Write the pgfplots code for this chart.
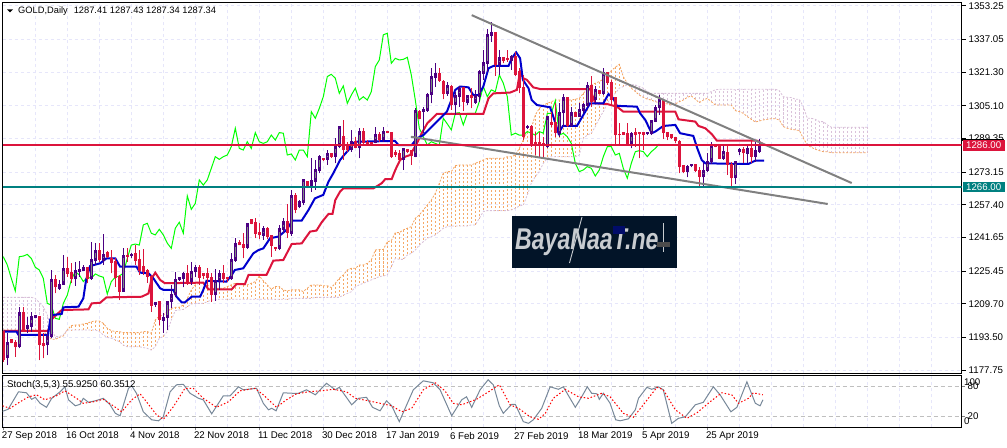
\documentclass[border=0pt]{standalone}
\usepackage{graphicx}
\usepackage{fontspec}
\setmainfont{Liberation Sans}
\usepackage{pgfplots}
\usepackage{pgfplotstable}
\pgfplotsset{compat=1.18}

\definecolor{crim}{HTML}{DC143C}
\definecolor{tealc}{HTML}{008080}
\definecolor{medblue}{HTML}{0000CD}
\definecolor{limec}{HTML}{00FF00}
\definecolor{sandy}{HTML}{F4A460}
\definecolor{thist}{HTML}{D8BFD8}
\definecolor{trend}{HTML}{808080}
\definecolor{indig}{HTML}{4B0082}
\definecolor{bodyg}{HTML}{7F8C80}
\definecolor{lav}{HTML}{E6E6FA}
\definecolor{slate}{HTML}{778899}
\definecolor{navyb}{HTML}{021428}
\definecolor{wmtext}{HTML}{C8CCD0}

\newcommand{\sm}{\fontsize{9.7bp}{11bp}\selectfont}

% rising candles
\pgfplotstableread{
i h t b l
1 1195.5 1191.0 1183.4 1180.2
4 1208.3 1205.1 1188.7 1188.2
6 1203.5 1199.0 1197.7 1195.5
7 1205.9 1203.2 1198.7 1196.3
8 1203.8 1203.8 1202.7 1202.7
11 1197.1 1193.5 1189.7 1185.0
12 1226.0 1221.2 1193.5 1193.1
14 1221.2 1218.8 1216.7 1216.4
15 1233.2 1226.5 1218.9 1218.8
18 1230.0 1225.5 1221.5 1218.3
19 1230.5 1226.0 1225.0 1222.8
20 1228.4 1227.1 1225.7 1225.7
22 1239.3 1230.8 1221.5 1221.2
23 1238.9 1235.2 1230.3 1228.4
25 1243.3 1233.2 1230.3 1228.4
30 1236.4 1232.7 1215.6 1215.6
32 1234.0 1233.4 1232.7 1231.6
38 1210.2 1210.2 1209.3 1208.3
40 1205.4 1202.7 1201.6 1195.8
41 1210.4 1210.4 1202.7 1197.1
42 1218.8 1213.8 1210.7 1207.5
43 1225.2 1221.2 1213.8 1213.1
44 1222.8 1222.1 1221.2 1220.8
45 1225.2 1224.1 1221.8 1217.6
47 1230.0 1225.2 1220.4 1218.8
48 1228.4 1226.8 1224.9 1222.5
53 1226.3 1220.8 1213.9 1211.1
54 1226.0 1223.9 1220.8 1216.4
57 1234.3 1230.8 1221.5 1221.2
58 1241.3 1238.4 1230.5 1230.0
61 1248.5 1248.0 1236.8 1236.0
65 1247.2 1245.6 1242.4 1240.5
69 1247.7 1245.6 1236.3 1235.6
70 1250.9 1249.0 1245.3 1243.7
72 1264.6 1261.7 1243.2 1242.4
74 1259.7 1258.5 1256.2 1255.7
75 1269.4 1269.4 1258.1 1257.3
77 1279.8 1268.9 1266.2 1263.8
78 1279.0 1274.2 1268.6 1264.6
79 1281.4 1280.3 1273.9 1272.6
81 1283.8 1281.8 1279.0 1276.6
83 1289.5 1285.5 1280.6 1277.4
84 1295.1 1294.8 1285.5 1284.6
87 1293.5 1287.8 1283.8 1283.0
89 1294.3 1292.3 1284.6 1279.8
93 1295.1 1291.0 1287.3 1287.0
95 1295.1 1292.5 1288.6 1287.8
100 1284.6 1284.3 1279.0 1274.2
103 1303.9 1302.6 1280.6 1280.3
105 1304.7 1303.1 1302.3 1291.9
106 1311.1 1310.3 1302.6 1302.3
107 1323.2 1318.9 1310.3 1306.3
108 1325.6 1320.5 1318.4 1314.4
111 1316.8 1314.7 1310.8 1309.9
113 1311.9 1309.9 1305.5 1300.7
114 1314.7 1313.1 1309.5 1304.7
116 1310.3 1309.9 1306.6 1305.5
118 1312.8 1309.9 1306.6 1306.0
119 1322.4 1321.6 1309.5 1307.1
120 1332.0 1325.6 1320.5 1317.6
121 1342.0 1339.3 1325.3 1321.6
122 1345.7 1340.1 1338.9 1336.0
124 1332.0 1328.0 1324.8 1320.0
127 1329.6 1328.5 1326.9 1322.4
131 1295.9 1295.1 1294.3 1293.8
136 1299.9 1299.6 1285.1 1284.6
139 1306.3 1301.5 1291.5 1290.2
140 1310.7 1308.7 1301.5 1295.1
142 1304.7 1301.5 1295.4 1295.1
144 1306.3 1303.1 1299.9 1299.6
145 1306.6 1305.4 1302.6 1301.5
146 1316.8 1314.8 1305.0 1304.7
148 1314.7 1312.7 1307.9 1306.3
150 1323.2 1320.8 1310.8 1310.3
157 1292.7 1291.4 1286.7 1284.6
161 1292.5 1292.2 1291.4 1291.0
162 1298.3 1298.0 1291.4 1291.0
163 1305.5 1303.9 1297.5 1297.2
164 1310.3 1307.9 1303.9 1300.7
171 1276.6 1275.5 1273.0 1270.6
172 1277.1 1276.6 1276.1 1275.5
175 1277.4 1273.9 1270.6 1266.5
176 1282.2 1278.2 1273.9 1273.4
177 1287.8 1285.8 1278.2 1277.1
180 1286.2 1283.0 1279.5 1279.0
183 1278.7 1278.2 1270.2 1267.4
184 1284.6 1283.8 1282.7 1281.4
186 1286.2 1284.2 1281.9 1277.4
188 1287.8 1283.3 1280.6 1278.2
189 1289.0 1285.1 1282.9 1282.5
}\upcandles

% falling candles
\pgfplotstableread{
i h t b l
0 1196.3 1196.3 1182.6 1181.8
2 1192.2 1192.2 1190.6 1190.6
3 1192.2 1190.6 1188.7 1184.2
5 1208.3 1205.1 1197.1 1196.3
9 1203.8 1203.5 1189.8 1182.6
10 1195.5 1190.3 1189.3 1183.4
13 1223.6 1221.2 1217.6 1214.7
16 1232.4 1226.5 1224.1 1222.8
17 1229.2 1224.4 1221.5 1219.6
21 1227.6 1226.8 1221.5 1219.6
24 1238.9 1235.2 1230.8 1230.0
26 1235.2 1234.3 1232.4 1231.6
27 1235.6 1231.3 1229.5 1224.4
28 1231.6 1230.0 1222.0 1218.0
29 1223.6 1222.5 1215.6 1211.5
31 1236.4 1232.9 1232.4 1230.0
33 1238.0 1233.5 1230.3 1228.4
34 1235.6 1230.8 1225.5 1223.6
35 1236.0 1227.3 1225.2 1223.6
36 1226.3 1225.5 1222.5 1219.9
37 1223.6 1222.5 1208.8 1205.9
39 1210.7 1210.7 1201.9 1199.5
46 1228.4 1224.1 1220.4 1218.8
49 1228.4 1227.1 1222.3 1218.8
50 1223.9 1223.9 1223.1 1221.5
51 1226.8 1223.9 1222.3 1216.7
52 1224.4 1222.3 1213.9 1210.7
55 1228.4 1224.1 1221.5 1219.6
56 1222.3 1222.3 1221.5 1220.4
59 1240.5 1238.9 1237.9 1237.9
60 1243.7 1238.0 1236.8 1231.6
62 1250.4 1250.1 1248.2 1248.0
63 1250.9 1248.8 1243.4 1241.3
64 1248.8 1243.8 1242.7 1240.8
66 1246.9 1245.8 1242.1 1240.8
67 1242.9 1242.4 1237.6 1232.4
68 1237.2 1236.8 1236.0 1235.2
71 1257.8 1249.0 1243.7 1241.3
73 1263.0 1261.7 1254.9 1253.3
76 1268.6 1268.6 1266.2 1265.4
80 1280.1 1279.5 1279.0 1278.5
82 1281.8 1281.8 1280.6 1280.1
85 1298.3 1290.2 1283.8 1279.0
86 1287.8 1285.4 1283.8 1283.0
88 1290.2 1287.8 1284.6 1284.6
90 1294.3 1292.3 1287.0 1286.7
91 1288.6 1287.3 1286.9 1286.2
92 1287.8 1287.0 1286.6 1286.0
94 1292.7 1291.0 1288.6 1287.8
96 1292.3 1292.3 1291.9 1291.9
97 1292.7 1291.9 1280.6 1280.1
98 1283.8 1282.5 1281.6 1280.6
99 1283.8 1281.9 1279.0 1277.4
101 1283.8 1283.8 1283.0 1282.2
102 1283.8 1283.5 1280.9 1276.6
104 1303.1 1302.3 1298.8 1298.6
109 1323.2 1320.5 1317.2 1316.8
110 1317.6 1316.8 1310.8 1308.2
112 1315.2 1314.0 1305.5 1303.1
115 1314.4 1313.6 1307.1 1302.6
117 1313.6 1309.9 1308.7 1303.9
123 1340.4 1340.1 1324.8 1319.5
125 1328.0 1327.9 1326.7 1325.6
126 1332.0 1327.5 1327.0 1326.4
128 1331.2 1328.8 1320.0 1319.5
129 1323.2 1321.6 1313.6 1311.1
130 1320.0 1313.6 1289.9 1288.6
132 1295.9 1295.1 1286.2 1285.4
133 1292.7 1287.3 1286.2 1281.4
134 1292.7 1287.3 1285.9 1280.6
135 1290.2 1286.7 1285.9 1280.6
137 1302.3 1297.0 1295.9 1295.1
138 1306.3 1296.7 1291.9 1290.2
141 1309.5 1308.7 1295.4 1295.1
143 1301.5 1301.5 1299.9 1299.9
147 1319.5 1314.8 1307.1 1304.7
149 1312.4 1312.1 1310.8 1310.8
151 1321.6 1320.8 1316.0 1315.2
152 1317.6 1316.0 1307.9 1305.5
153 1308.7 1308.7 1291.0 1286.2
154 1296.7 1291.0 1290.9 1286.2
155 1291.9 1291.9 1291.0 1291.0
156 1296.7 1291.4 1286.7 1286.2
158 1294.3 1292.2 1291.0 1285.4
159 1292.7 1292.2 1291.5 1279.8
160 1292.2 1292.0 1291.0 1283.8
165 1308.2 1307.4 1291.9 1289.0
166 1292.2 1291.9 1289.9 1288.6
167 1291.5 1291.0 1289.4 1289.0
168 1289.9 1289.4 1288.3 1287.0
169 1288.6 1287.8 1275.8 1272.6
170 1276.6 1276.1 1273.4 1272.6
173 1276.6 1276.6 1273.9 1273.4
174 1275.8 1273.9 1271.0 1265.8
178 1286.2 1285.8 1285.4 1285.1
179 1286.2 1285.8 1279.5 1279.3
181 1286.2 1282.5 1276.6 1271.8
182 1278.2 1276.6 1270.2 1265.8
185 1285.1 1283.8 1282.2 1277.4
187 1288.6 1284.2 1280.6 1277.4
}\downcandles

% ichimoku spans
\pgfplotstableread{
i A B
0 1197.1 1212.8
1 1197.1 1212.8
2 1197.1 1212.8
3 1197.1 1212.8
4 1197.1 1212.8
5 1197.1 1212.8
6 1197.1 1212.8
7 1197.1 1212.8
8 1197.1 1212.3
9 1196.8 1210.3
10 1196.3 1208.3
11 1194.7 1204.3
12 1192.6 1197.1
13 1192.6 1193.9
14 1193.5 1193.9
15 1194.2 1194.7
16 1197.1 1197.1
17 1199.2 1197.1
18 1199.5 1197.1
19 1199.5 1197.1
20 1200.0 1197.1
21 1200.3 1197.1
22 1201.1 1197.1
23 1201.4 1197.1
24 1201.4 1196.3
25 1200.3 1194.7
26 1197.9 1193.5
27 1196.8 1193.1
28 1196.3 1192.3
29 1196.3 1191.5
30 1195.8 1189.8
31 1195.8 1189.0
32 1195.8 1189.0
33 1195.8 1189.0
34 1195.8 1189.0
35 1196.3 1188.6
36 1196.3 1188.2
37 1195.5 1187.4
38 1201.9 1189.0
39 1203.8 1193.1
40 1204.3 1193.9
41 1205.9 1196.3
42 1207.5 1201.9
43 1208.0 1206.4
44 1208.0 1206.7
45 1209.1 1207.0
46 1212.3 1208.3
47 1216.4 1209.6
48 1218.8 1209.9
49 1219.6 1209.9
50 1219.6 1209.9
51 1218.8 1210.7
52 1217.2 1211.5
53 1217.2 1211.5
54 1217.2 1211.9
55 1217.2 1211.9
56 1218.0 1211.9
57 1218.8 1211.9
58 1219.6 1211.9
59 1219.6 1211.9
60 1218.8 1211.9
61 1218.8 1211.9
62 1219.6 1211.9
63 1220.4 1211.9
64 1223.1 1211.9
65 1220.8 1211.9
66 1218.8 1211.9
67 1216.7 1211.9
68 1218.0 1211.9
69 1218.0 1211.9
70 1216.4 1211.9
71 1215.9 1211.9
72 1216.4 1212.3
73 1216.4 1212.3
74 1216.4 1212.3
75 1215.6 1212.3
76 1217.2 1212.3
77 1218.8 1212.3
78 1218.8 1212.8
79 1218.8 1212.8
80 1218.4 1212.8
81 1218.4 1212.8
82 1217.5 1212.8
83 1219.6 1212.8
84 1222.0 1212.8
85 1223.6 1213.9
86 1226.0 1214.7
87 1226.8 1215.5
88 1226.8 1217.9
89 1228.4 1218.8
90 1228.4 1219.6
91 1229.2 1220.4
92 1230.8 1221.2
93 1235.6 1222.0
94 1235.9 1222.8
95 1235.9 1223.1
96 1239.6 1223.6
97 1240.1 1227.6
98 1244.0 1231.6
99 1244.0 1231.1
100 1245.3 1231.1
101 1246.1 1233.2
102 1246.9 1234.0
103 1250.9 1235.6
104 1252.5 1238.0
105 1254.9 1239.6
106 1257.3 1241.3
107 1259.7 1242.1
108 1263.0 1242.9
109 1267.8 1244.5
110 1272.6 1246.1
111 1273.4 1246.9
112 1273.4 1247.2
113 1276.3 1247.2
114 1276.6 1247.2
115 1276.6 1247.2
116 1276.6 1247.2
117 1276.6 1247.7
118 1277.4 1247.7
119 1278.2 1250.9
120 1279.0 1254.1
121 1279.8 1254.6
122 1279.8 1254.6
123 1279.8 1254.6
124 1279.8 1254.6
125 1279.8 1254.6
126 1280.6 1254.6
127 1280.6 1254.9
128 1281.4 1255.7
129 1284.6 1256.8
130 1288.7 1257.3
131 1292.7 1262.1
132 1294.3 1267.8
133 1300.7 1271.0
134 1303.9 1273.4
135 1305.5 1277.4
136 1306.3 1279.8
137 1307.1 1280.6
138 1307.9 1280.6
139 1307.9 1280.6
140 1307.9 1280.6
141 1307.9 1280.6
142 1307.9 1280.6
143 1308.3 1280.6
144 1308.7 1281.4
145 1311.1 1289.4
146 1313.1 1291.0
147 1315.2 1291.9
148 1316.0 1295.1
149 1316.8 1299.1
150 1317.9 1302.3
151 1320.0 1306.3
152 1322.1 1309.5
153 1323.7 1311.1
154 1325.1 1313.6
155 1319.2 1314.4
156 1316.0 1315.2
157 1313.6 1315.2
158 1312.0 1315.2
159 1310.3 1314.4
160 1309.2 1313.6
161 1308.3 1312.0
162 1307.9 1311.1
163 1307.1 1311.1
164 1306.6 1311.1
165 1306.3 1311.1
166 1306.0 1311.1
167 1305.5 1311.1
168 1306.0 1311.1
169 1307.1 1311.1
170 1307.9 1311.1
171 1309.2 1311.1
172 1309.9 1311.1
173 1308.3 1311.1
174 1306.6 1311.1
175 1307.9 1311.1
176 1308.7 1311.1
177 1307.1 1312.0
178 1305.5 1312.8
179 1305.5 1313.1
180 1305.5 1313.1
181 1305.5 1313.1
182 1305.5 1313.1
183 1302.8 1312.8
184 1302.3 1313.1
185 1301.5 1313.1
186 1299.9 1313.1
187 1298.6 1313.1
188 1297.3 1313.1
189 1297.8 1313.1
190 1298.3 1313.1
191 1298.6 1313.1
192 1298.9 1313.1
193 1298.9 1313.1
194 1298.3 1312.4
195 1295.1 1309.5
196 1294.3 1309.2
197 1293.8 1309.1
198 1293.5 1308.3
199 1293.2 1308.3
200 1289.5 1304.7
201 1286.3 1299.1
202 1285.1 1299.1
203 1284.2 1298.6
204 1283.5 1297.5
205 1283.0 1297.5
206 1283.0 1295.9
207 1282.5 1294.8
208 1282.5 1294.8
209 1282.5 1294.8
210 1282.5 1294.8
211 1282.5 1294.8
212 1282.5 1294.8
213 1282.5 1294.8
214 1282.5 1294.8
215 1282.5 1294.8
216 1282.5 1294.8
}\cloud

\begin{document}
\begin{tikzpicture}[font=\sm]
\path[use as bounding box] (0,0) rectangle (1007bp,-448bp);

\begin{axis}[
    name=main,
    at={(2.5bp,-2.5bp)}, anchor=north west,
    scale only axis, width=959bp, height=370.8bp,
    xmin=-0.2, xmax=239.55, ymin=1176.2, ymax=1354.9,
    axis line style={line width=1.2bp},
    xtick={8,16,...,232}, xticklabels={},
    xtick style={draw=none},
    ytick={1177.75,1193.50,1209.70,1225.45,1241.65,1257.40,1273.15,1289.35,1305.10,1321.30,1337.05,1353.25},
    yticklabels={1177.75,1193.50,1209.70,1225.45,1241.65,1257.40,1273.15,1289.35,1305.10,1321.30,1337.05,1353.25},
    ytick pos=right, yticklabel pos=right,
    tick align=outside, major tick length=4bp,
    ytick style={black,line width=1bp},
    yticklabel style={font=\sm,inner sep=0pt,xshift=3bp},
    grid=major,
    grid style={lav,line width=1bp,dash pattern=on 3bp off 3bp},
]
\pgfplotsset{
  span/.style={#1,line width=0.8bp,dash pattern=on 2bp off 1.5bp,forget plot,mark=none},
  bar/.style n args={2}{only marks,mark size=0pt,mark options={draw=none,fill=none},forget plot,
    error bars/y dir=plus,error bars/y explicit,error bars/error mark=none,
    error bars/error bar style={#1,line width=#2,line cap=butt}}
}
% cloud hatching, one dashed stroke per bar, coloured by which span is on top
\pgfplotsinvokeforeach{0,...,216}{
  \pgfplotstablegetelem{#1}{A}\of\cloud\let\spa\pgfplotsretval
  \pgfplotstablegetelem{#1}{B}\of\cloud\let\spb\pgfplotsretval
  \ifdim\spa pt<\spb pt\def\hcol{thist}\else\def\hcol{sandy}\fi
  \edef\tmp{\noexpand\addplot[\hcol,line width=1bp,line cap=butt,opacity=0.95,dash pattern=on 2.1bp off 1.9bp,mark=none,forget plot]
    coordinates {(#1,\spa)(#1,\spb)};}
  \tmp
}
\addplot[span=sandy] table[x=i,y=A] {\cloud};
\addplot[span=thist] table[x=i,y=B] {\cloud};

% chikou
\addplot[limec,line width=1bp,mark=none] coordinates {
(0,1232.4)(1,1228.4)(2,1222)(3,1215.9)(4,1232.4)(5,1232.7)(6,1233.5)(7,1231.6)(8,1227.3)(9,1226)
(10,1222)(11,1209.9)(12,1209.1)(13,1202.7)(14,1202.2)(15,1209.9)(16,1213.9)(17,1221.2)(18,1225.2)(19,1223.6)
(20,1220.4)(21,1222.5)(22,1222)(23,1224.1)(24,1223.1)(25,1222.5)(26,1214.4)(27,1220.4)(28,1222.5)(29,1223.1)
(30,1224.4)(31,1231.6)(32,1238)(33,1238.5)(34,1238)(35,1247.7)(36,1248.5)(37,1243.7)(38,1242.9)(39,1245.6)
(40,1242.9)(41,1238.9)(42,1236.4)(43,1246.1)(44,1249)(45,1243.7)(46,1261.7)(47,1255.2)(48,1258.1)(49,1269.4)
(50,1266.9)(51,1269.4)(52,1275)(53,1280.6)(54,1279.3)(55,1280.6)(56,1281.4)(57,1285.4)(58,1294.3)(59,1284.6)
(60,1283.8)(61,1287.8)(62,1284.6)(63,1292.2)(64,1287.8)(65,1287)(66,1287.8)(67,1291)(68,1288.6)(69,1292.2)
(70,1291.9)(71,1281.4)(72,1281.9)(73,1279)(74,1283.8)(75,1283.8)(76,1280.6)(77,1302.3)(78,1299.1)(79,1303.9)
(80,1309.5)(81,1319.2)(82,1320.3)(83,1318.4)(84,1311.1)(85,1314.7)(86,1306.3)(87,1310.3)(88,1313.6)(89,1307.9)
(90,1309.5)(91,1307.9)(92,1311.9)(93,1324)(94,1327.2)(95,1339.3)(96,1340.1)(97,1325.6)(98,1328)(99,1327.2)
(100,1327.5)(101,1328.5)(102,1320)(103,1307.9)(104,1294.3)(105,1290.2)(106,1286.2)(107,1287.8)(108,1287)(109,1286.2)
(110,1299.1)(111,1296.4)(112,1293.5)(113,1301.5)(114,1301.8)(115,1295.9)(116,1301.5)(117,1301.5)(118,1301.5)(119,1307.1)
(120,1314.4)(121,1309.5)(122,1312.8)(123,1311.9)(124,1320)(125,1316)(126,1309.5)(127,1291)(128,1291.9)(129,1291)
(130,1291)(131,1292.7)(132,1291.9)(133,1291)(134,1292.7)(135,1291.9)(136,1301.5)(137,1301.5)(138,1307.6)(139,1291)
(140,1291.9)(141,1290.2)(142,1287)(143,1277.4)(144,1273.4)(145,1274.2)(146,1275.8)(147,1275)(148,1271.3)(149,1274.2)
(150,1280.6)(151,1285.4)(152,1285.4)(153,1281.4)(154,1282.2)(155,1275)(156,1270.2)(157,1277.4)(158,1283)(159,1283.5)
(160,1283)(161,1280.6)(162,1283)(163,1284.6)(164,1286.7)
};

% kijun
\addplot[crim,line width=2bp,mark=none] coordinates {
(0,1196.7)(11.2,1196.7)(11.7,1199.5)(12.3,1202.7)(14.6,1206.7)(21.3,1207)(22.1,1209.9)(24.2,1210.2)(25.8,1212.8)
(34.6,1213.1)(36.3,1214.7)(37.1,1222)(38,1224.7)(39.2,1221.2)(40.4,1219.6)(50,1219.9)(51.3,1216.7)(57.1,1216.7)
(58.3,1219.2)(60.4,1219.2)(61.3,1223.6)(65.8,1223.6)(67.5,1230.5)(70,1230.8)(72.1,1238.5)(74.6,1238.8)(76.7,1244.5)
(78.3,1245)(79.6,1249)(81.3,1253)(82.3,1253)(83,1259.7)(84.2,1263.8)(85,1265.3)(92.5,1265.3)(94.6,1267.8)(95.5,1269.8)
(97.1,1269.8)(98,1274.2)(99.2,1279)(100.5,1280.6)(101.7,1281.4)(103.4,1287)(104.6,1291.9)(106,1296.7)(108.4,1301.2)
(120,1301.2)(121.3,1308.7)(122.5,1311.1)(126.7,1311.5)(128.4,1312.8)(129.2,1321.6)(130,1318.4)(130.9,1317.6)(132.5,1314)
(134.2,1313.2)(146.7,1313.2)(148,1306.3)(150.9,1306)(153.4,1304.7)(155,1302.3)(168,1302.3)(168.8,1298.6)(173,1297.5)
(173.8,1295.4)(175.5,1294.3)(177.1,1291.5)(178.4,1288.3)(188.4,1288.3)(190.4,1286.2)
};

% tenkan
\addplot[medblue,line width=2bp,mark=none] coordinates {
(0,1196.3)(3.3,1196.3)(3.8,1194.7)(11.2,1194.7)(11.7,1201.9)(12.3,1204.3)(14.6,1204.8)(15,1208)(18.8,1208.3)(20,1212.3)
(20.7,1221.2)(21.7,1227.9)(24.2,1229.2)(25.8,1231.6)(28,1231.6)(29.2,1227.6)(33.3,1227.6)(34.2,1224.7)(36.3,1224.4)
(37.5,1222)(39.2,1217.2)(40,1216.4)(42.5,1216.4)(43.3,1213.1)(44.6,1210.4)(45.4,1210.4)(47.1,1213.1)(49.2,1213.1)
(50,1216.4)(50.8,1220.8)(55.8,1220.4)(57.1,1223.6)(57.9,1226)(60,1226.8)(62.5,1234)(63.8,1235.6)(65,1236.4)(66.7,1241.3)
(68.8,1242.1)(70.8,1245.3)(72.3,1249.8)(74.6,1249.8)(76.3,1254.9)(77.9,1260.5)(80,1262.2)(81.3,1268.6)(82.5,1272.6)
(84.2,1279)(85.2,1281.4)(86.3,1283.8)(87.1,1287)(88.4,1287.8)(97.9,1288.2)(98.8,1286.2)(102.1,1286.2)(103.4,1289.4)
(105,1291)(110.9,1302.3)(111.7,1306.3)(113,1312.8)(114.2,1314.4)(116.3,1314)(117.5,1310.3)(118.8,1310.3)(120,1314.4)
(121.3,1323.2)(122.5,1324.3)(126.3,1324.3)(127.1,1328)(128.2,1330.9)(129.2,1328)(129.9,1317.6)(131.3,1313.6)(132.1,1307.9)
(133.4,1305.5)(136.7,1304.4)(137.5,1299.9)(138.8,1291.9)(139.9,1295.4)(143.4,1295.4)(145,1300.7)(146.7,1306.3)(150,1306.3)
(151.3,1310.8)(152.5,1308.7)(153.4,1305.1)(158.4,1304.7)(159.2,1301.5)(160.5,1298.3)(162.1,1291.9)(163,1292.7)(165,1295.4)
(168,1295.9)(169.2,1291.9)(172.5,1290.6)(173.5,1284.6)(174.6,1279)(175.5,1277.4)(185,1277.1)(186.3,1277.1)(188,1278.7)(190.2,1278.7)
};

% candles: wick, then body
\addplot[bar={indig}{1bp}] table[x=i,y=l,y error plus expr={\thisrow{h}-\thisrow{l}}] {\upcandles};
\addplot[bar={crim}{1bp}] table[x=i,y=l,y error plus expr={\thisrow{h}-\thisrow{l}}] {\downcandles};
\addplot[bar={indig}{3.2bp}] table[x=i,y=b,y error plus expr={\thisrow{t}-\thisrow{b}+0.5}] {\upcandles};
\addplot[bar={bodyg}{1.4bp}] table[x=i,y expr={\thisrow{b}+1.6},y error plus expr={max(\thisrow{t}-\thisrow{b}-2.7,0)}] {\upcandles};
\addplot[bar={crim}{3.2bp}] table[x=i,y=b,y error plus expr={\thisrow{t}-\thisrow{b}+0.5}] {\downcandles};

% trend lines and levels
\addplot[trend,line width=2bp,mark=none] coordinates {(117.1,1348.8)(212.1,1267.9)};
\addplot[trend,line width=2bp,mark=none] coordinates {(101.9,1290.2)(206.1,1257.8)};
\addplot[crim,line width=2bp,mark=none] coordinates {(-0.2,1286)(239.55,1286)};
\addplot[tealc,line width=2bp,mark=none] coordinates {(-0.2,1266)(239.55,1266)};
\end{axis}

\begin{axis}[
    name=stoch,
    at={(2.5bp,-375.3bp)}, anchor=north west,
    scale only axis, width=959bp, height=52bp,
    xmin=-0.2, xmax=239.55, ymin=-2, ymax=102,
    axis line style={line width=1.2bp},
    xtick={0,16,...,176},
    xticklabels={27 Sep 2018,16 Oct 2018,4 Nov 2018,22 Nov 2018,11 Dec 2018,30 Dec 2018,17 Jan 2019,6 Feb 2019,27 Feb 2019,18 Mar 2019,5 Apr 2019,25 Apr 2019},
    xticklabel style={font=\sm,anchor=north west,inner sep=0pt,xshift=-1.5bp,yshift=-1.5bp},
    minor xtick={8,24,40,56,72,88,104,120,136,152,168,184,192,200,208,216,224,232},
    xtick pos=bottom,
    ytick={20,80}, yticklabels={20,80},
    ytick pos=right, yticklabel pos=right,
    tick align=outside, major tick length=3bp, minor tick length=0pt,
    yticklabel style={font=\sm,inner sep=0pt,xshift=3bp},
    xmajorgrids, xminorgrids, ymajorgrids,
    x grid style={lav,line width=1bp,dash pattern=on 3bp off 3bp},
    minor x grid style={lav,line width=1bp,dash pattern=on 3bp off 3bp},
    y grid style={black!25,line width=1bp,dash pattern=on 4bp off 3bp},
]
\addplot[slate,line width=1bp,mark=none] coordinates {
(-0.2,30)(1.2,34)(3.8,69)(5.8,67)(7.1,54)(8,58)(9.2,46)(10.8,38)(12.1,56)(14.2,69)(15.4,79)(16.3,53)(18,41)(19.2,44)(20,56)
(21.3,48)(23,51)(25,56)(26.7,43)(28,26)(29.2,21)(31.3,76)(32.1,81)(33.3,66)(35,29)(37.1,13)(38.8,11)(40,19)(41.7,69)(43.3,83)
(45,84)(46.7,66)(48.8,56)(50,53)(52.1,25)(55,61)(56.7,61)(58.8,79)(60,73)(63.3,76)(65,46)(66.3,33)(67.1,36)(68.2,31)(70,67)
(72.5,66)(73.8,66)(75.8,73)(78,63)(80.8,86)(83,73)(84,78)(87.1,43)(88.8,56)(90.8,58)(92.3,38)(94.2,31)(95.8,51)(97.1,41)(99,9.3)
(102.5,73)(105,91)(107.5,87)(109.2,73)(112.1,21)(114.6,53)(115.8,59)(117.1,38)(119.2,73)(121.2,93)(122.5,83)(124,41)(125,26)
(127.1,44)(128,44)(130,9.3)(131.3,6)(132.5,13)(134.6,36)(136.7,79)(138.8,74)(140,79)(143,38)(144.6,59)(146,79)(147.1,66)(148.4,65)
(149,54)(150,66)(151.7,46)(153.1,13)(154.2,11)(156.3,15)(158,33)(158.8,56)(160.9,78)(162.1,74)(163.8,79)(165,73)(167.1,6)(168.8,16)
(170.5,19)(173,43)(175,48)(177.5,79)(179.2,63)(181.9,29)(183.4,38)(185.9,89)(188,46)(189.2,41)(189.9,53)
};
\addplot[red,line width=1bp,mark=none,dash pattern=on 1.5bp off 2bp] coordinates {
(-0.2,41)(1.7,36)(4.2,49)(6.3,59)(8.3,63)(10.4,53)(13.3,61)(15.4,71)(18.3,56)(20,46)(22.5,49)(25,54)(27.5,41)(29.6,29)(32.1,53)
(34.2,65)(35.8,49)(38.3,23)(40,14)(42.5,39)(45.4,76)(47.5,76)(50,56)(53.3,38)(56.3,49)(59.2,71)(62.9,76)(65,63)(68.3,38)(70.8,53)
(73.3,65)(76.3,69)(79.6,71)(82.5,74)(85.8,69)(88,56)(91.3,51)(94.2,46)(97.1,41)(99.6,29)(102.1,36)(105,73)(108,87)(110.4,71)
(112.5,46)(114.6,43)(118.3,54)(121.7,71)(124,83)(126.7,43)(128.8,36)(131.7,19)(133.8,14)(135.5,26)(137.5,56)(140.5,74)(143.8,59)
(146.3,56)(149.6,66)(151.7,59)(155,26)(157.5,18)(160,43)(163.4,78)(165,73)(168,33)(170.9,16)(173.4,27)(176.7,49)(179.6,67)(182.1,63)
(183.8,46)(186.3,56)(187.5,67)(189.9,63)
};
\end{axis}

% price tags on the scale
\fill[black] (962bp,-138.5bp) rectangle (1004bp,-141bp);
\node[fill=crim,text=white,font=\sm,anchor=west,minimum width=42bp,minimum height=10.6bp,inner sep=0pt,align=center] at (962.5bp,-145.5bp) {1286.00};
\node[fill=tealc,text=white,font=\sm,anchor=west,minimum width=42bp,minimum height=9.6bp,inner sep=0pt,align=center] at (962.5bp,-187bp) {1266.00};

% chart captions
\fill[black] (7bp,-9.3bp) -- (13bp,-9.3bp) -- (10bp,-12.3bp) -- cycle;
\node[anchor=west,inner sep=0pt] at (18bp,-10.7bp) {\fontsize{9.3bp}{11bp}\selectfont GOLD,Daily\hspace{6bp}1287.41 1287.43 1287.34 1287.34};
\node[anchor=west,inner sep=0pt] at (7bp,-385bp) {Stoch(3,5,3) 55.9250 60.3512};
\node[anchor=west,inner sep=0pt] at (964bp,-382bp) {100};
\node[anchor=west,inner sep=0pt] at (964bp,-421bp) {0};

% watermark
\fill[navyb] (512bp,-216bp) rectangle (677bp,-268bp);
\node[anchor=west,inner sep=0pt,text=wmtext] at (515bp,-242bp) {\scalebox{0.77}[1]{\fontsize{30bp}{32bp}\selectfont\bfseries\itshape BayaNaaT.ne}};
\draw[wmtext,line width=0.9bp] (582bp,-217bp) -- (569.5bp,-263bp);
\fill[medblue!40!navyb] (613bp,-226bp) rectangle (625bp,-234bp);
\draw[wmtext,line width=1bp] (663.5bp,-223bp) -- (663.5bp,-252bp);
\fill[black!70] (657bp,-242bp) rectangle (670bp,-247bp);
\end{tikzpicture}
\end{document}
